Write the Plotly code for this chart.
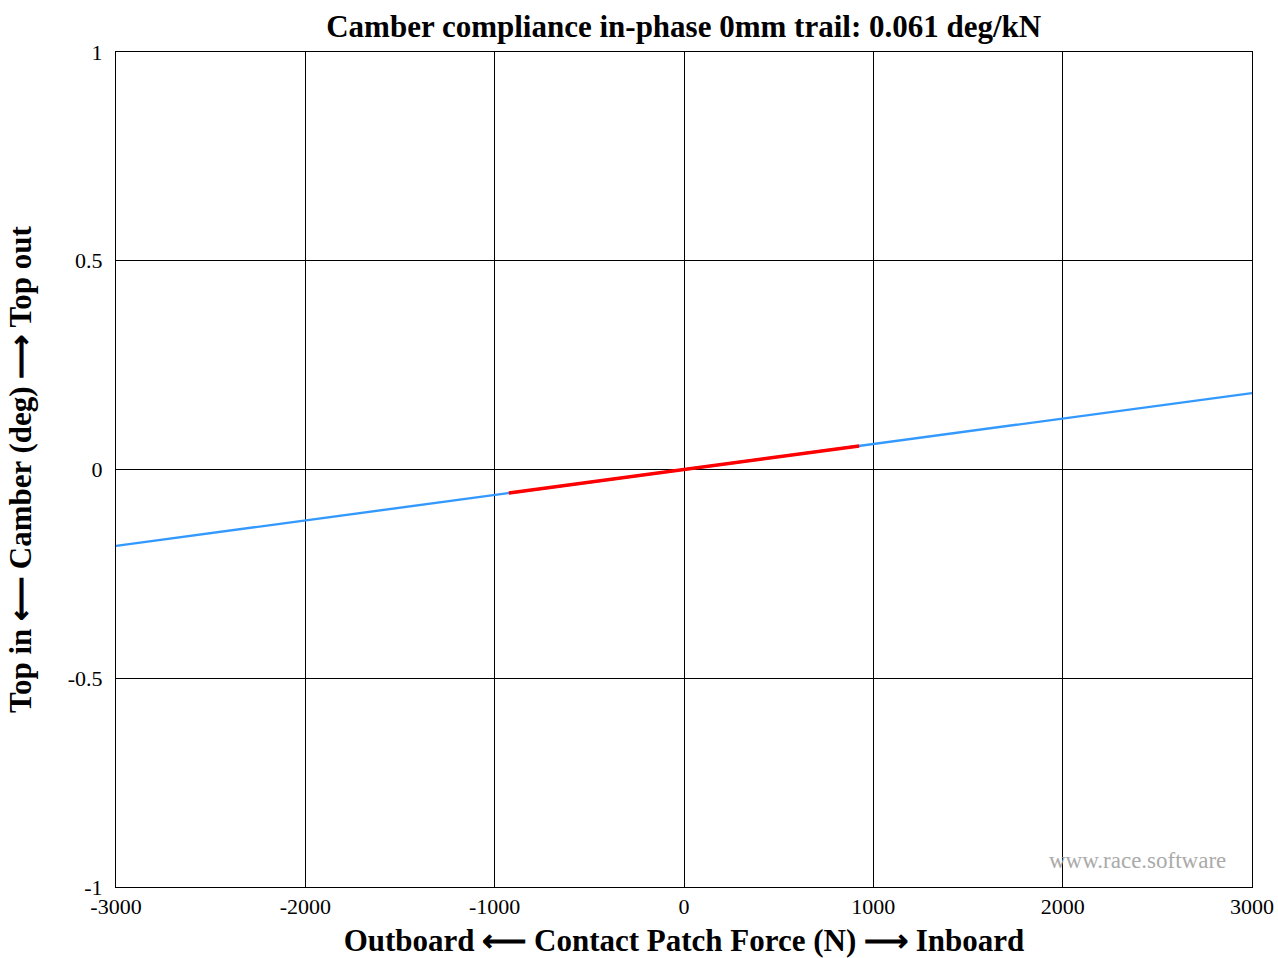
import plotly.graph_objects as go

# Data
force_all = [-3000, 3000]
camber_all = [-0.183, 0.183]
force_range = [-925, 925]
camber_range = [-0.0564, 0.0564]

x_ticks = [-3000, -2000, -1000, 0, 1000, 2000, 3000]
x_ticktext = ["-3000", "-2000", "-1000", "0", "1000", "2000", "3000"]
y_ticks = [-1, -0.5, 0, 0.5, 1]
y_ticktext = ["-1", "-0.5", "0", "0.5", "1"]

FONT = "Liberation Serif"

fig = go.Figure()
fig.add_trace(go.Scatter(x=force_all, y=camber_all, mode="lines",
                         line=dict(color="#3399ff", width=2.4), showlegend=False))
fig.add_trace(go.Scatter(x=force_range, y=camber_range, mode="lines",
                         line=dict(color="#ff0000", width=3.4), showlegend=False))

axis_common = dict(showgrid=True, gridcolor="#000000", gridwidth=0.8,
                   showline=True, linecolor="#000000", linewidth=1, mirror="allticks",
                   ticks="inside", ticklen=6, tickcolor="#000000", zeroline=False,
                   automargin=False,
                   tickfont=dict(family=FONT, size=22, color="#000000"))

fig.update_xaxes(range=[-3000, 3000], tickvals=x_ticks, ticktext=x_ticktext,
                 title=dict(text="<b>Outboard ⟵ Contact Patch Force (N) ⟶ Inboard</b>",
                            font=dict(family=FONT, size=31, color="#000000"), standoff=10),
                 **axis_common)
fig.update_yaxes(range=[-1, 1], tickvals=y_ticks, ticktext=y_ticktext,
                 ticklabelstandoff=8,
                 title=dict(text="<b>Top in ⟵ Camber (deg) ⟶ Top out</b>",
                            font=dict(family=FONT, size=31, color="#000000"), standoff=26),
                 **axis_common)

fig.update_layout(
    width=1278, height=958,
    margin=dict(l=116, r=26, t=52, b=71),
    paper_bgcolor="white", plot_bgcolor="white",
    title=dict(text="<b>Camber compliance in-phase 0mm trail: 0.061 deg/kN</b>",
               font=dict(family=FONT, size=31, color="#000000"),
               x=0.535, xanchor="center", y=0.973, yanchor="middle"),
    annotations=[dict(text="www.race.software", xref="paper", yref="paper",
                      x=0.979, y=0.032, xanchor="right", yanchor="middle",
                      showarrow=False, font=dict(family=FONT, size=23, color="#aaaaaa"))],
)

fig.write_html("out.html")
